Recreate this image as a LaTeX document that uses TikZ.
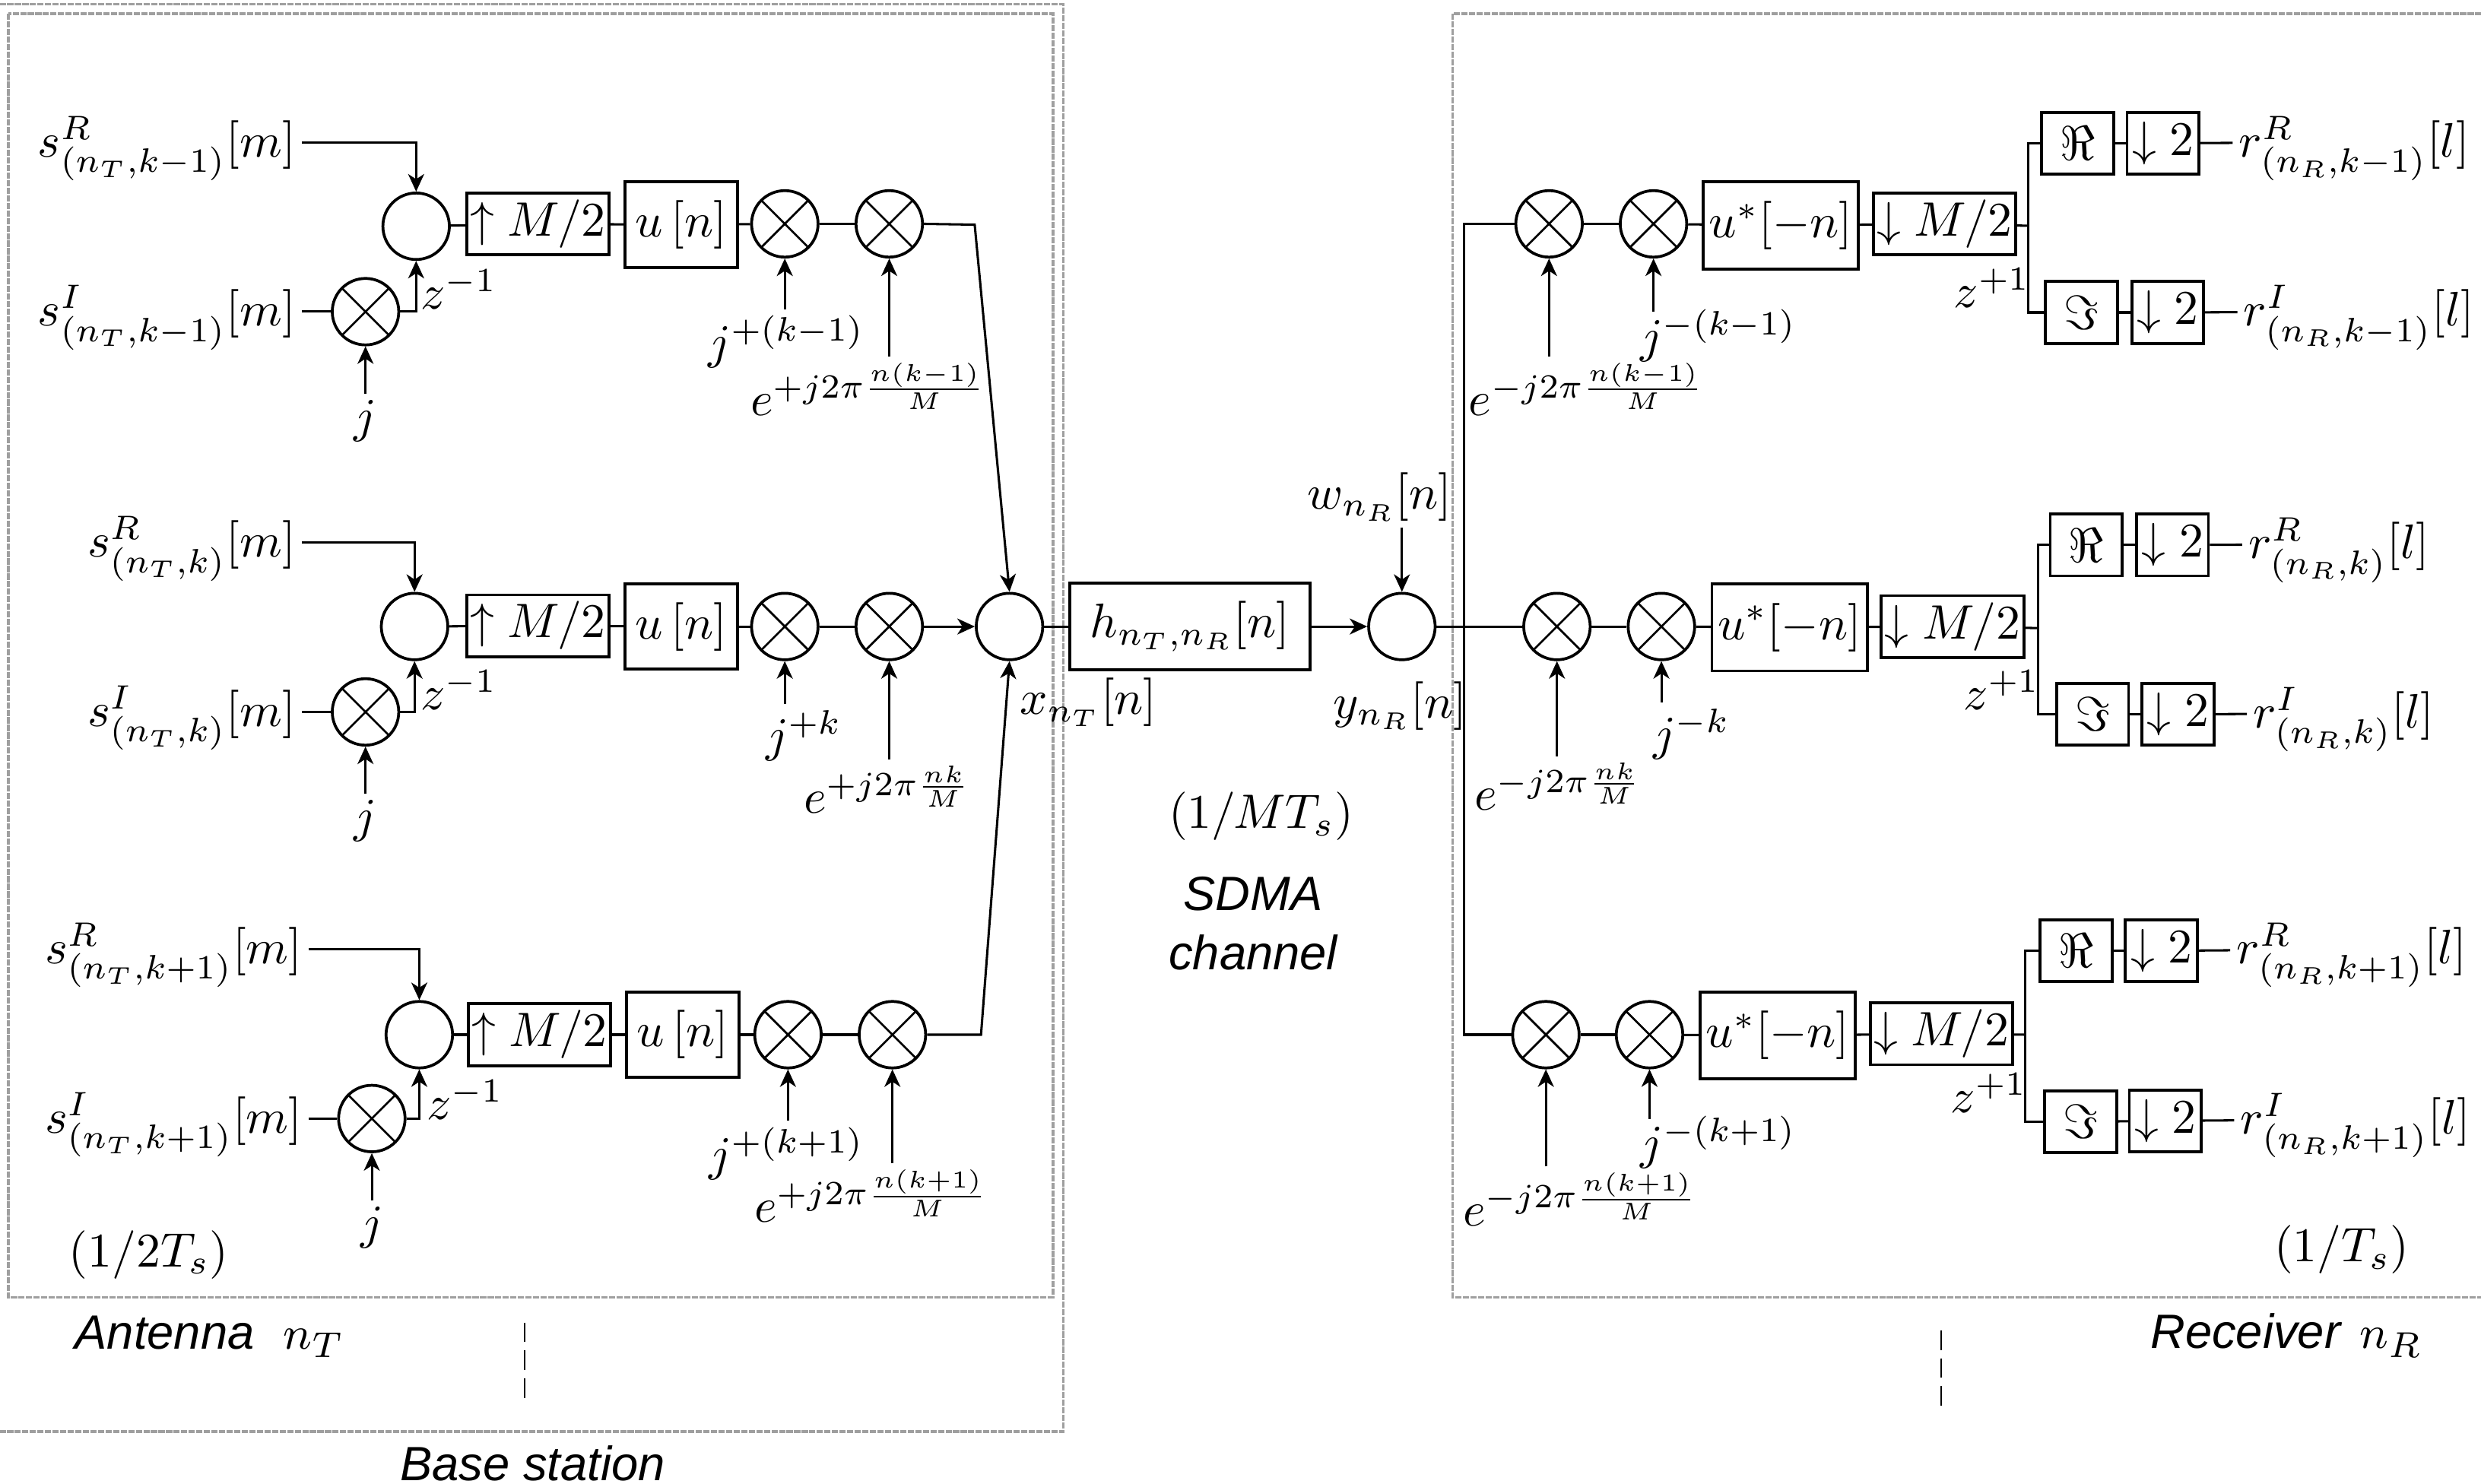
\documentclass[tikz,border=0pt]{standalone}
\usepackage{amsmath,amssymb}
\usepackage[no-math]{fontspec}
\usepackage{tikz}
\usetikzlibrary{arrows.meta}
\newfontfamily\labelfont{Liberation Sans}
\begin{document}
\begin{tikzpicture}[x=0.01081cm,y=-0.01081cm,>={Stealth[length=3.4pt,width=3.1pt,inset=1pt]},line width=.45pt,
frame/.style={draw=gray!75,line width=.55pt,dash pattern=on 1.2pt off .27pt},
blockbox/.style={draw,scale=.94,inner sep=0pt,line width=.55pt},
upbox/.style={blockbox,minimum width=1.035cm,minimum height=.449cm},
ubox/.style={blockbox,minimum width=.817cm,minimum height=.621cm},
ustarbox/.style={blockbox,minimum width=1.127cm,minimum height=.633cm},
twobox/.style={blockbox,minimum width=.523cm,minimum height=.449cm},
sumnode/.style={draw,circle,minimum size=.454cm,inner sep=0pt,line width=.55pt},
mixnode/.style={sumnode,path picture={\draw[line width=.4pt] (path picture bounding box.north west)--(path picture bounding box.south east) (path picture bounding box.north east)--(path picture bounding box.south west);}},
lab/.style={scale=.94,inner sep=1.1pt},
sublab/.style={lab,text height=10.9pt},
txt/.style={inner sep=0pt,font=\labelfont\itshape\fontsize{9.35}{11}\selectfont}]
\useasboundingbox (0,0) rectangle (1568,938);
% frames
\draw[frame] (-5,2.6)--(672,2.6)--(672,905)--(-5,905);
\draw[frame] (5.3,8.6) rectangle (665.4,820);
\draw[frame] (1573,8.6)--(918,8.6)--(918,820)--(1573,820);
\draw[line width=.27pt,dash pattern=on 3.8pt off 1.6pt] (331.6,836)--(331.6,887);
\draw[line width=.27pt,dash pattern=on 3.8pt off 1.6pt] (1226.7,841)--(1226.7,890);
% transmitter, upper branch
\node[sumnode] (sumA) at (263,143) {};
\node[mixnode] (xA) at (231,197) {};
\node[upbox] (upA) at (340,141.5) {$\uparrow M/2$};
\node[ubox] (uA) at (430.5,142) {$u\,[n]$};
\node[mixnode] (m1A) at (496,141.5) {};
\node[mixnode] (m2A) at (562,141.5) {};
\node[sublab,anchor=east] (srA) at (191,90) {$s^{R}_{(n_T,k-1)}[m]$};
\node[sublab,anchor=east] (siA) at (191,197) {$s^{I}_{(n_T,k-1)}[m]$};
\node[lab] (jA) at (231,266) {$j$};
\node[lab] (zA) at (290,183) {$z^{-1}$};
\node[lab] (pA) at (497,216) {$j^{+(k-1)}$};
\node[lab] (eA) at (549,246) {$e^{+j2\pi\frac{n(k-1)}{M}}$};
\coordinate (cA) at (263,197);
\draw[->] (srA.east)-|(sumA.north);
\draw (siA.east)--(xA);
\draw[->] (xA.east)--(cA)--(sumA.south);
\draw[->] (jA.north)--(xA.south);
\draw (sumA)--(upA);\draw (upA)--(uA);\draw (uA)--(m1A);\draw (m1A)--(m2A);
\draw[->] (pA.north -| m1A)--(m1A.south);
\draw[->] (eA.north -| m2A)--(m2A.south);
% transmitter, middle branch
\node[sumnode] (sumB) at (262,396) {};
\node[mixnode] (xB) at (231,450) {};
\node[upbox] (upB) at (340,395.5) {$\uparrow M/2$};
\node[ubox] (uB) at (430.5,396) {$u\,[n]$};
\node[mixnode] (m1B) at (496,396) {};
\node[mixnode] (m2B) at (562,396) {};
\node[sublab,anchor=east] (srB) at (191,343) {$s^{R}_{(n_T,k)}[m]$};
\node[sublab,anchor=east] (siB) at (191,450) {$s^{I}_{(n_T,k)}[m]$};
\node[lab] (jB) at (231,519) {$j$};
\node[lab] (zB) at (290,436) {$z^{-1}$};
\node[lab] (pB) at (508,465) {$j^{+k}$};
\node[lab] (eB) at (561,499) {$e^{+j2\pi\frac{nk}{M}}$};
\coordinate (cB) at (262,450);
\draw[->] (srB.east)-|(sumB.north);
\draw (siB.east)--(xB);
\draw[->] (xB.east)--(cB)--(sumB.south);
\draw[->] (jB.north)--(xB.south);
\draw (sumB)--(upB);\draw (upB)--(uB);\draw (uB)--(m1B);\draw (m1B)--(m2B);
\draw[->] (pB.north -| m1B)--(m1B.south);
\draw[->] (eB.north -| m2B)--(m2B.south);
% transmitter, lower branch
\node[sumnode] (sumC) at (265,654) {};
\node[mixnode] (xC) at (235,707) {};
\node[upbox] (upC) at (341,654) {$\uparrow M/2$};
\node[ubox] (uC) at (431.5,654) {$u\,[n]$};
\node[mixnode] (m1C) at (498,654) {};
\node[mixnode] (m2C) at (564,654) {};
\node[sublab,anchor=east] (srC) at (195,600) {$s^{R}_{(n_T,k+1)}[m]$};
\node[sublab,anchor=east] (siC) at (195,707) {$s^{I}_{(n_T,k+1)}[m]$};
\node[lab] (jC) at (235,776) {$j$};
\node[lab] (zC) at (294,695) {$z^{-1}$};
\node[lab] (pC) at (497,729) {$j^{+(k+1)}$};
\node[lab] (eC) at (551,756) {$e^{+j2\pi\frac{n(k+1)}{M}}$};
\coordinate (cC) at (265,707);
\draw[->] (srC.east)-|(sumC.north);
\draw (siC.east)--(xC);
\draw[->] (xC.east)--(cC)--(sumC.south);
\draw[->] (jC.north)--(xC.south);
\draw (sumC)--(upC);\draw (upC)--(uC);\draw (uC)--(m1C);\draw (m1C)--(m2C);
\draw[->] (pC.north -| m1C)--(m1C.south);
\draw[->] (eC.north -| m2C)--(m2C.south);
% channel
\node[sumnode] (sumT) at (638,396) {};
\node[blockbox,minimum width=1.748cm,minimum height=.627cm] (h) at (752,396) {$h_{n_T,n_R}[n]$};
\node[sumnode] (sumR) at (886,396) {};
\node[lab] (w) at (872,314) {$w_{n_R}[n]$};
\node[lab] (xout) at (688,444) {$x_{n_T}[n]$};
\node[lab] (yout) at (885,446) {$y_{n_R}[n]$};
\node[lab] (rateM) at (797,516) {$(1/MT_s)$};
\node[txt] (sdma) at (792,565) {SDMA};
\node[txt] (chan) at (792,602) {channel};
\coordinate (tA) at (616,142);
\coordinate (tC) at (620,654);
\draw[->] (m2A.east)--(tA)--(sumT.north);
\draw[->] (m2B.east)--(sumT.west);
\draw[->] (m2C.east)--(tC)--(sumT.south);
\draw (sumT)--(h);
\draw[->] (h)--(sumR);
\draw[->] (w.south -| sumR)--(sumR.north);
% receiver, upper branch
\node[mixnode] (m1D) at (979,141.5) {};
\node[mixnode] (m2D) at (1045,141.5) {};
\node[ustarbox] (uD) at (1125.5,142.5) {$u^{*}[-n]$};
\node[upbox] (dD) at (1229,141.5) {$\downarrow M/2$};
\node[twobox] (reD) at (1313,90.5) {$\Re$};
\node[twobox] (tD) at (1367,90.5) {$\downarrow 2$};
\node[twobox] (imD) at (1315.5,197.5) {$\Im$};
\node[twobox] (bD) at (1370,197.5) {$\downarrow 2$};
\node[sublab,anchor=west] (rrD) at (1411,90) {$r^{R}_{(n_R,k-1)}[l]$};
\node[sublab,anchor=west] (riD) at (1414,197) {$r^{I}_{(n_R,k-1)}[l]$};
\node[lab] (zD) at (1259,182) {$z^{+1}$};
\node[lab] (pD) at (1086,212) {$j^{-(k-1)}$};
\node[lab] (eD) at (1003,246) {$e^{-j2\pi\frac{n(k-1)}{M}}$};
\coordinate (jnD) at (1282,142.7);
\draw (m1D)--(m2D);\draw (m2D)--(uD);\draw (uD)--(dD);\draw (dD)--(jnD);
\draw (reD.west)--(reD.west -| jnD)--(imD.west -| jnD)--(imD.west);
\draw (reD)--(tD);\draw (tD)--(rrD);\draw (imD)--(bD);\draw (bD)--(riD);
\draw[->] (eD.north -| m1D)--(m1D.south);
\draw[->] ([yshift=-1.8pt]pD.north -| m2D)--(m2D.south);
% receiver, middle branch
\node[mixnode] (m1E) at (984,396) {};
\node[mixnode] (m2E) at (1050,396) {};
\node[ustarbox] (uE) at (1131,396.5) {$u^{*}[-n]$};
\node[upbox] (dE) at (1234,396) {$\downarrow M/2$};
\node[twobox] (reE) at (1318.5,344.5) {$\Re$};
\node[twobox] (tE) at (1373,344.5) {$\downarrow 2$};
\node[twobox] (imE) at (1322.5,451.5) {$\Im$};
\node[twobox] (bE) at (1376.5,451.5) {$\downarrow 2$};
\node[sublab,anchor=west] (rrE) at (1417,344) {$r^{R}_{(n_R,k)}[l]$};
\node[sublab,anchor=west] (riE) at (1420,451) {$r^{I}_{(n_R,k)}[l]$};
\node[lab] (zE) at (1265,436) {$z^{+1}$};
\node[lab] (pE) at (1069,464) {$j^{-k}$};
\node[lab] (eE) at (985,497) {$e^{-j2\pi\frac{nk}{M}}$};
\coordinate (jnE) at (1288,397);
\draw (m1E)--(m2E);\draw (m2E)--(uE);\draw (uE)--(dE);\draw (dE)--(jnE);
\draw (reE.west)--(reE.west -| jnE)--(imE.west -| jnE)--(imE.west);
\draw (reE)--(tE);\draw (tE)--(rrE);\draw (imE)--(bE);\draw (bE)--(riE);
\draw[->] (eE.north -| m1E)--(m1E.south);
\draw[->] (pE.north -| m2E)--(m2E.south);
% receiver, lower branch
\node[mixnode] (m1F) at (977,654) {};
\node[mixnode] (m2F) at (1042.5,654) {};
\node[ustarbox] (uF) at (1123.5,654.5) {$u^{*}[-n]$};
\node[upbox] (dF) at (1227,653.5) {$\downarrow M/2$};
\node[twobox] (reF) at (1312,601) {$\Re$};
\node[twobox] (tF) at (1366,601) {$\downarrow 2$};
\node[twobox] (imF) at (1315,709) {$\Im$};
\node[twobox] (bF) at (1368.5,708.5) {$\downarrow 2$};
\node[sublab,anchor=west] (rrF) at (1409.5,600) {$r^{R}_{(n_R,k+1)}[l]$};
\node[sublab,anchor=west] (riF) at (1412,707.5) {$r^{I}_{(n_R,k+1)}[l]$};
\node[lab] (zF) at (1257,691) {$z^{+1}$};
\node[lab] (pF) at (1086,722) {$j^{-(k+1)}$};
\node[lab] (eF) at (999,758) {$e^{-j2\pi\frac{n(k+1)}{M}}$};
\coordinate (jnF) at (1280,654);
\draw (m1F)--(m2F);\draw (m2F)--(uF);\draw (uF)--(dF);\draw (dF)--(jnF);
\draw (reF.west)--(reF.west -| jnF)--(imF.west -| jnF)--(imF.west);
\draw (reF)--(tF);\draw (tF)--(rrF);\draw (imF)--(bF);\draw (bF)--(riF);
\draw[->] (eF.north -| m1F)--(m1F.south);
\draw[->] ([yshift=-1.8pt]pF.north -| m2F)--(m2F.south);
% trunk
\coordinate (trunk) at (925.4,396);
\draw (sumR)--(m1E);
\draw (m1D.west)--(m1D.west -| trunk)--(m1F.west -| trunk)--(m1F.west);
% rates and captions
\node[lab] (rateL) at (94,793) {$(1/2T_s)$};
\node[lab] (rateR) at (1480,790) {$(1/T_s)$};
\node[txt,anchor=west] (capA) at (46.7,845) {Antenna\hspace{.6em}$n_T$};
\node[txt] (capR) at (1445,844) {Receiver\hspace{.4em}$n_R$};
\node[txt,anchor=base] (capB) at (336.6,936) {Base station};
\end{tikzpicture}
\end{document}
